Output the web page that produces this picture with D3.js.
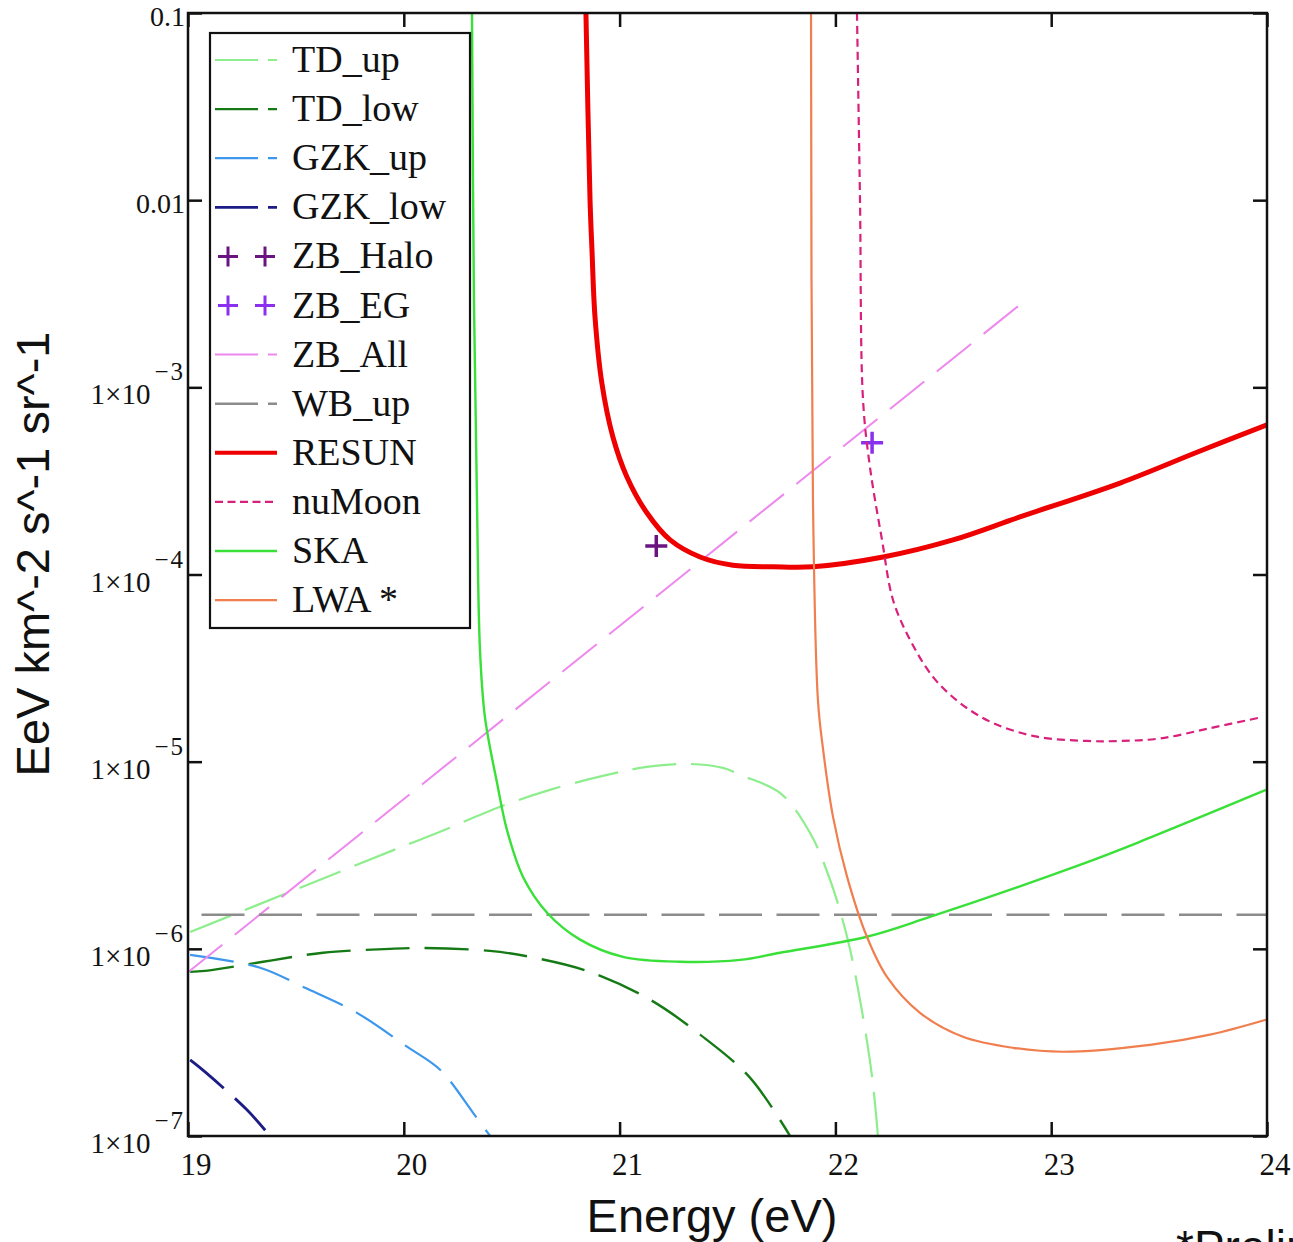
<!DOCTYPE html>
<html>
<head>
<meta charset="utf-8">
<script src="https://cdn.jsdelivr.net/npm/d3@7"></script>
<style>
    body { margin: 0; background: #fff; }
    text.tick { font-family: "Liberation Serif", "DejaVu Serif", serif; fill: #111; }
    text.title { font-family: "Liberation Sans", Arial, sans-serif; fill: #111; }
    text.legend { font-family: "Liberation Serif", "DejaVu Serif", serif; fill: #111; font-size: 38px; }
</style>
</head>
<body>
<svg id="chart" width="1293" height="1242"></svg>
<script>
//  === Data (energy in log10 eV, flux in EeV km^-2 s^-1 sr^-1) ===
var xTicks = [19, 20, 21, 22, 23, 24];
var yTicks = [1e-7, 1e-6, 1e-5, 1e-4, 1e-3, 0.01, 0.1];
var yTickBase = ["1×10", "1×10", "1×10", "1×10", "1×10", "0.01", "0.1"];
var yTickExp = ["−7", "−6", "−5", "−4", "−3", "", ""];

var tdUp = [[19.01, 1.23e-6], [19.52, 2.12e-6], [19.98, 3.47e-6], [20.168, 4.22e-6], [20.446, 5.74e-6],
    [20.677, 7.07e-6], [20.942, 8.50e-6], [21.127, 9.37e-6], [21.312, 9.73e-6], [21.479, 9.26e-6],
    [21.558, 8.50e-6], [21.743, 6.81e-6], [21.882, 4.17e-6], [21.975, 2.34e-6], [22.054, 1.16e-6],
    [22.114, 5.35e-7], [22.170, 2.07e-7], [22.197, 1.0e-7]];
var tdLow = [[19.01, 7.53e-7], [19.079, 7.62e-7], [19.348, 8.53e-7], [19.626, 9.53e-7], [19.936, 1.0e-6],
    [20.089, 1.01e-6], [20.399, 9.75e-7], [20.585, 9.06e-7], [20.863, 7.53e-7], [21.141, 5.35e-7],
    [21.373, 3.48e-7], [21.604, 2.05e-7], [21.79, 1.0e-7]];
var gzkUp = [[19.01, 9.29e-7], [19.334, 7.93e-7], [19.542, 6.19e-7], [19.783, 4.55e-7], [20.015, 3.0e-7],
    [20.168, 2.26e-7], [20.321, 1.33e-7], [20.40, 1.0e-7]];
var gzkLow = [[19.01, 2.55e-7], [19.079, 2.20e-7], [19.273, 1.38e-7], [19.38, 1.0e-7]];
var zbHalo = [[21.17, 1.42e-4]];
var zbEG = [[22.17, 5.05e-4]];
var zbAll = [[19.0, 7.5e-7], [22.9, 3.04e-3]];
var wbUp = [[19.0, 1.52e-6], [24.0, 1.52e-6]];
var resun = [[20.844, 0.1], [20.863, 0.01], [20.872, 5.42e-3], [20.886, 2.38e-3], [20.918, 1.05e-3],
    [20.969, 5.43e-4], [21.034, 3.32e-4], [21.127, 2.13e-4], [21.234, 1.53e-4], [21.373, 1.24e-4],
    [21.525, 1.12e-4], [21.711, 1.10e-4], [21.896, 1.10e-4], [22.221, 1.24e-4], [22.545, 1.53e-4],
    [22.855, 2.03e-4], [23.319, 3.08e-4], [23.69, 4.57e-4], [24.0, 6.30e-4]];
var nuMoon = [[22.10, 0.1], [22.114, 0.01], [22.128, 8.57e-4], [22.160, 3.76e-4], [22.216, 1.53e-4],
    [22.267, 7.31e-5], [22.346, 4.48e-5], [22.452, 2.84e-5], [22.577, 2.06e-5], [22.730, 1.61e-5],
    [22.934, 1.36e-5], [23.166, 1.29e-5], [23.319, 1.29e-5], [23.504, 1.33e-5], [23.736, 1.51e-5],
    [23.977, 1.73e-5]];
var ska = [[20.316, 0.1], [20.325, 2.93e-3], [20.339, 2.51e-4], [20.353, 3.95e-5], [20.376, 1.73e-5],
    [20.432, 7.71e-6], [20.478, 4.32e-6], [20.552, 2.43e-6], [20.664, 1.56e-6], [20.817, 1.12e-6],
    [21.016, 9.06e-7], [21.280, 8.53e-7], [21.558, 8.73e-7], [21.743, 9.53e-7], [22.146, 1.16e-6],
    [22.438, 1.48e-6], [23.133, 2.81e-6], [23.41, 3.73e-6], [23.995, 7.06e-6]];
var lwa = [[21.887, 0.1], [21.896, 2.51e-4], [21.919, 2.14e-5], [21.943, 1.16e-5], [21.989, 5.07e-6],
    [22.054, 2.43e-6], [22.146, 1.16e-6], [22.239, 7.08e-7], [22.392, 4.55e-7], [22.591, 3.39e-7],
    [22.823, 2.96e-7], [23.055, 2.82e-7], [23.458, 3.07e-7], [23.736, 3.48e-7], [23.995, 4.18e-7]];
// /Data

//  === Series styles ===
var series = [
    { name: "TD_up", data: tdUp, color: "#8eee8e", dash: "44,15", width: 2.2 },
    { name: "TD_low", data: tdLow, color: "#157a15", dash: "44,15", width: 2.4 },
    { name: "GZK_up", data: gzkUp, color: "#3d97ec", dash: "44,15", width: 2.2 },
    { name: "GZK_low", data: gzkLow, color: "#1c1c86", dash: "44,15", width: 2.8 },
    { name: "ZB_Halo", data: zbHalo, color: "#6a1480", plus: true },
    { name: "ZB_EG", data: zbEG, color: "#8a30ee", plus: true },
    { name: "ZB_All", data: zbAll, color: "#ee88ee", dash: "44,16", width: 2 },
    { name: "WB_up", data: wbUp, color: "#8c8c8c", dash: "43,14.5", width: 2.4, offset: 44 },
    { name: "RESUN", data: resun, color: "#ee0000", dash: null, width: 5 },
    { name: "nuMoon", data: nuMoon, color: "#d8207c", dash: "8,5", width: 2.2 },
    { name: "SKA", data: ska, color: "#38e038", dash: null, width: 2.4 },
    { name: "LWA *", data: lwa, color: "#f07e4e", dash: null, width: 2.2 }
];
// /Series

function drawChart() {
    var svg = d3.select("#chart");
    var pLeft = 188, pRight = 1267, pTop = 13, pBottom = 1136;

    var x = d3.scaleLinear().domain([19, 24]).range([pLeft, pRight]);
    var y = d3.scaleLog().domain([1e-7, 0.1]).range([pBottom, pTop]);

    svg.append("defs").append("clipPath").attr("id", "plotClip")
        .append("rect")
        .attr("x", pLeft).attr("y", pTop)
        .attr("width", pRight - pLeft).attr("height", pBottom - pTop);

    //  === Curves ===
    var line = d3.line()
        .x(function (d) { return x(d[0]); })
        .y(function (d) { return y(d[1]); })
        .curve(d3.curveCatmullRom.alpha(0.5));

    var plot = svg.append("g").attr("clip-path", "url(#plotClip)");

    series.forEach(function (s) {
        if (s.plus) {
            s.data.forEach(function (d) {
                var cx = x(d[0]), cy = y(d[1]);
                plot.append("path")
                    .attr("d", "M" + (cx - 11) + "," + cy + "H" + (cx + 11) + "M" + cx + "," + (cy - 11) + "V" + (cy + 11))
                    .attr("stroke", s.color).attr("stroke-width", 3.5).attr("fill", "none");
            });
            return;
        }
        plot.append("path")
            .datum(s.data)
            .attr("d", line)
            .attr("fill", "none")
            .attr("stroke", s.color)
            .attr("stroke-width", s.width)
            .attr("stroke-dasharray", s.dash)
            .attr("stroke-dashoffset", s.offset || 0);
    });
    // /curves

    //  === Frame and ticks ===
    svg.append("rect")
        .attr("x", pLeft).attr("y", pTop)
        .attr("width", pRight - pLeft).attr("height", pBottom - pTop)
        .attr("fill", "none").attr("stroke", "#111").attr("stroke-width", 2.5);

    function styleAxis(g) {
        g.select(".domain").remove();
        g.selectAll(".tick line").attr("stroke", "#111").attr("stroke-width", 2.5);
        g.selectAll(".tick text").remove();
    }
    svg.append("g").attr("transform", "translate(0," + pBottom + ")")
        .call(d3.axisBottom(x).tickValues(xTicks).tickSize(-14)).call(styleAxis);
    svg.append("g").attr("transform", "translate(0," + pTop + ")")
        .call(d3.axisTop(x).tickValues(xTicks).tickSize(-14)).call(styleAxis);
    svg.append("g").attr("transform", "translate(" + pLeft + ",0)")
        .call(d3.axisLeft(y).tickValues(yTicks).tickSize(-14)).call(styleAxis);
    svg.append("g").attr("transform", "translate(" + pRight + ",0)")
        .call(d3.axisRight(y).tickValues(yTicks).tickSize(-14)).call(styleAxis);

    // x tick labels
    svg.selectAll("text.xlab")
        .data(xTicks)
        .enter()
        .append("text")
        .attr("class", "tick xlab")
        .attr("x", function (d) { return x(d) + 8; })
        .attr("y", 1175)
        .attr("text-anchor", "middle")
        .style("font-size", "31px")
        .text(function (d) { return d; });

    // y tick labels, 1x10 with a raised exponent
    yTicks.forEach(function (v, i) {
        var t = svg.append("text")
            .attr("class", "tick")
            .attr("x", 185)
            .attr("text-anchor", "end");
        if (yTickExp[i]) {
            t.attr("y", y(v) + 17).style("font-size", "29px");
            t.append("tspan").text(yTickBase[i]);
            t.append("tspan").attr("dy", -24).attr("dx", 4)
                .style("font-size", "25px").style("letter-spacing", "2px")
                .text(yTickExp[i]);
        } else {
            t.attr("y", y(v) + 13).style("font-size", "28px").text(yTickBase[i]);
        }
    });
    // /frame

    //  === Titles ===
    svg.append("text")
        .attr("class", "title")
        .attr("x", 712).attr("y", 1232)
        .attr("text-anchor", "middle")
        .style("font-size", "47px")
        .text("Energy (eV)");

    svg.append("text")
        .attr("class", "title")
        .attr("transform", "translate(49,554) rotate(-90)")
        .attr("text-anchor", "middle")
        .style("font-size", "47px")
        .text("EeV km^-2 s^-1 sr^-1");

    svg.append("text")
        .attr("class", "title")
        .attr("x", 1176).attr("y", 1263)
        .style("font-size", "46px")
        .text("*Preliminary");
    // /titles

    //  === Legend ===
    var legend = svg.append("g");
    legend.append("rect")
        .attr("x", 210).attr("y", 33)
        .attr("width", 260).attr("height", 595)
        .attr("fill", "#fff").attr("stroke", "#111").attr("stroke-width", 2.2);

    series.forEach(function (s, i) {
        var base = 72 + i * 49.1;
        var ly = base - 12;
        if (s.plus) {
            [228, 265].forEach(function (cx) {
                legend.append("path")
                    .attr("d", "M" + (cx - 10) + "," + ly + "H" + (cx + 10) + "M" + cx + "," + (ly - 10) + "V" + (ly + 10))
                    .attr("stroke", s.color).attr("stroke-width", 3).attr("fill", "none");
            });
        } else {
            legend.append("line")
                .attr("x1", 215).attr("x2", 277)
                .attr("y1", ly).attr("y2", ly)
                .attr("stroke", s.color)
                .attr("stroke-width", Math.min(s.width, 4))
                .attr("stroke-dasharray", s.dash ? (s.dash == "8,5" ? "8,4.5" : "43,10") : null);
        }
        legend.append("text")
            .attr("class", "legend")
            .attr("x", 292).attr("y", base)
            .text(s.name);
    });
    // /legend
}

drawChart();
</script>
</body>
</html>
